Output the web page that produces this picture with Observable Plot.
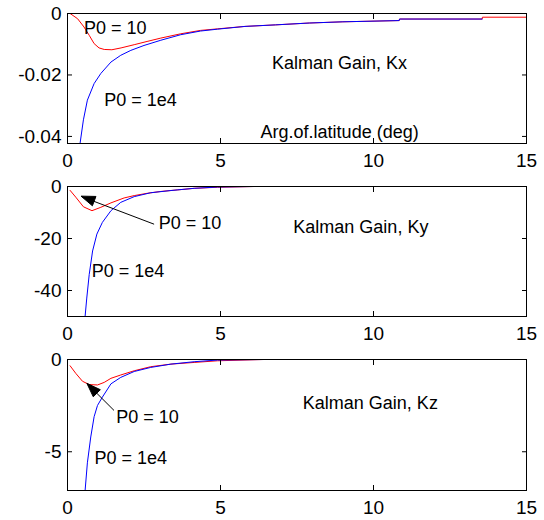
<!DOCTYPE html>
<html><head><meta charset="utf-8">
<script src="https://cdn.jsdelivr.net/npm/d3@7"></script>
<script src="https://cdn.jsdelivr.net/npm/@observablehq/plot@0.6"></script>
<style>body{margin:0;background:#fff} svg{display:block}</style>
</head><body><div id="chart"></div>
<script>
// ---- data ----
const xTicks = [0, 5, 10, 15];

// Panel 1: Kalman Gain, Kx
const kxTicks = [0, -0.02, -0.04];
const kxDomain = [-0.0423, 0];
const kxRedX = [0.085, 0.33, 0.54, 0.71, 0.87, 1.03, 1.2, 1.45, 1.75, 2.2, 2.6, 3.05, 3.7, 4.35, 4.9, 5.8, 6.8, 7.9, 9.0, 10.84, 10.85, 13.55, 13.56, 15];
const kxRedY = [0, -0.0017, -0.0044, -0.0071, -0.0098, -0.0112, -0.0117, -0.0118, -0.0112, -0.0101, -0.0091, -0.008, -0.0066, -0.0055, -0.005, -0.0042, -0.0037, -0.0031, -0.0027, -0.0023, -0.0018, -0.0018, -0.0012, -0.0012];
const kxBlueX = [0.41, 0.52, 0.65, 0.87, 1.09, 1.42, 1.74, 2.07, 2.5, 3.05, 3.7, 4.35, 4.9, 5.8, 6.8, 7.9, 9.0, 10.84, 10.85, 13.55];
const kxBlueY = [-0.0423, -0.0346, -0.0282, -0.0228, -0.0195, -0.0158, -0.0136, -0.012, -0.0104, -0.0087, -0.0069, -0.0057, -0.0051, -0.0042, -0.0037, -0.0031, -0.0027, -0.0023, -0.0018, -0.0018];

// Panel 2: Kalman Gain, Ky
const kyTicks = [0, -20, -40];
const kyDomain = [-50, 0];
const kyRedX = [0.085, 0.27, 0.52, 0.8, 1.09, 1.42, 1.85, 2.18, 2.61, 3.05, 3.6, 4.14, 4.9, 6.1, 15];
const kyRedY = [-1.5, -4.1, -7.8, -9.3, -8.0, -6.3, -4.4, -3.5, -2.6, -1.9, -1.3, -0.7, -0.3, 0, 0];
const kyBlueX = [0.575, 0.63, 0.71, 0.82, 0.96, 1.14, 1.42, 1.74, 2.18, 2.72, 3.38, 4.14, 4.9, 6.1, 15];
const kyBlueY = [-50, -42.9, -33.8, -24.8, -18.3, -13.8, -9.3, -6.1, -3.9, -2.4, -1.55, -0.7, -0.2, 0, 0];

// Panel 3: Kalman Gain, Kz
const kzTicks = [0, -5];
const kzDomain = [-7.1, 0];
const kzRedX = [0.085, 0.27, 0.49, 0.71, 0.98, 1.2, 1.42, 1.74, 2.18, 2.72, 3.38, 4.14, 4.9, 6.4, 15];
const kzRedY = [-0.34, -0.75, -1.18, -1.36, -1.38, -1.24, -1.02, -0.84, -0.61, -0.39, -0.25, -0.16, -0.07, 0, 0];
const kzBlueX = [0.575, 0.65, 0.76, 0.87, 0.98, 1.14, 1.42, 1.74, 2.18, 2.72, 3.38, 4.14, 4.9, 6.44, 15];
const kzBlueY = [-7.1, -5.6, -4.2, -3.1, -2.49, -2.04, -1.32, -0.97, -0.65, -0.43, -0.25, -0.12, -0.03, 0, 0];

// Annotations (data coordinates)
const kxLabels = [
  {x: 0.54, y: -0.0049, text: "P0 = 10"},
  {x: 1.2, y: -0.0281, text: "P0 = 1e4"},
  {x: 6.68, y: -0.0162, text: "Kalman Gain, Kx"},
  {x: 6.31, y: -0.0387, text: "Arg.of.latitude (deg)"}
];
const kyLabels = [
  {x: 2.98, y: -13.95, text: "P0 = 10"},
  {x: 0.79, y: -32.4, text: "P0 = 1e4"},
  {x: 7.38, y: -15.7, text: "Kalman Gain, Ky"}
];
const kzLabels = [
  {x: 1.59, y: -3.13, text: "P0 = 10"},
  {x: 0.88, y: -5.34, text: "P0 = 1e4"},
  {x: 7.69, y: -2.38, text: "Kalman Gain, Kz"}
];
const kyArrow = {x1: 2.83, y1: -14.5, x2: 0.46, y2: -3.9};
const kzArrow = {x1: 1.52, y1: -2.76, x2: 0.65, y2: -1.32};

// ---- drawing ----
const FONT = "'Liberation Sans', Arial, Helvetica, sans-serif";
const pts = (xs, ys) => xs.map((x, i) => ({x, y: ys[i]}));
const fmt = d => String(d);

function arrowHead(a) {
  return (index, scales) => {
    const x1 = scales.x(a.x1), y1 = scales.y(a.y1), x2 = scales.x(a.x2), y2 = scales.y(a.y2);
    const dx = x2 - x1, dy = y2 - y1, L = Math.hypot(dx, dy);
    const ux = dx / L, uy = dy / L, len = 14, hw = 5;
    const bx = x2 - ux * len, by = y2 - uy * len;
    const p = [[x2, y2], [bx - uy * hw, by + ux * hw], [bx + uy * hw, by - ux * hw]];
    const path = d3.create("svg:path")
      .attr("d", "M" + p.map(q => q.join(",")).join("L") + "Z")
      .attr("fill", "black").attr("stroke", "black");
    return path.node();
  };
}

function panel({domain, ticks, redX, redY, blueX, blueY, labels, arrow, height}) {
  const marks = [
    Plot.line(pts(redX, redY), {x: "x", y: "y", stroke: "#ff0000", strokeWidth: 1, clip: true}),
    Plot.line(pts(blueX, blueY), {x: "x", y: "y", stroke: "#0000ff", strokeWidth: 1, clip: true}),
    Plot.text(labels, {x: "x", y: "y", text: "text", textAnchor: "start", lineAnchor: "middle", fontSize: 18, fill: "black"}),
    Plot.frame({stroke: "black"}),
    Plot.axisX(xTicks, {anchor: "bottom", tickSize: 0, tickPadding: 10, tickFormat: fmt, fontSize: 19}),
    Plot.axisX(xTicks, {anchor: "bottom", tickSize: -5, tickFormat: () => ""}),
    Plot.axisX(xTicks, {anchor: "top", tickSize: -5, tickFormat: () => ""}),
    Plot.axisY(ticks, {anchor: "left", tickSize: 0, tickPadding: 6, tickFormat: fmt, fontSize: 19}),
    Plot.axisY(ticks, {anchor: "left", tickSize: -5, tickFormat: () => ""}),
    Plot.axisY(ticks, {anchor: "right", tickSize: -5, tickFormat: () => ""})
  ];
  if (arrow) {
    marks.push(Plot.link([arrow], {x1: "x1", y1: "y1", x2: "x2", y2: "y2", stroke: "black", strokeWidth: 1}));
    marks.push(arrowHead(arrow));
  }
  return Plot.plot({
    width: 544, height,
    marginLeft: 67, marginRight: 18, marginTop: 13, marginBottom: 30,
    x: {domain: [0, 15], label: null},
    y: {domain, label: null},
    style: {fontFamily: FONT, fontSize: "18px", color: "black", background: "white"},
    marks
  });
}

const root = document.getElementById("chart");
root.append(panel({domain: kxDomain, ticks: kxTicks, redX: kxRedX, redY: kxRedY, blueX: kxBlueX, blueY: kxBlueY, labels: kxLabels, height: 173}));
root.append(panel({domain: kyDomain, ticks: kyTicks, redX: kyRedX, redY: kyRedY, blueX: kyBlueX, blueY: kyBlueY, labels: kyLabels, arrow: kyArrow, height: 173}));
root.append(panel({domain: kzDomain, ticks: kzTicks, redX: kzRedX, redY: kzRedY, blueX: kzBlueX, blueY: kzBlueY, labels: kzLabels, arrow: kzArrow, height: 174}));
</script>
</body></html>
